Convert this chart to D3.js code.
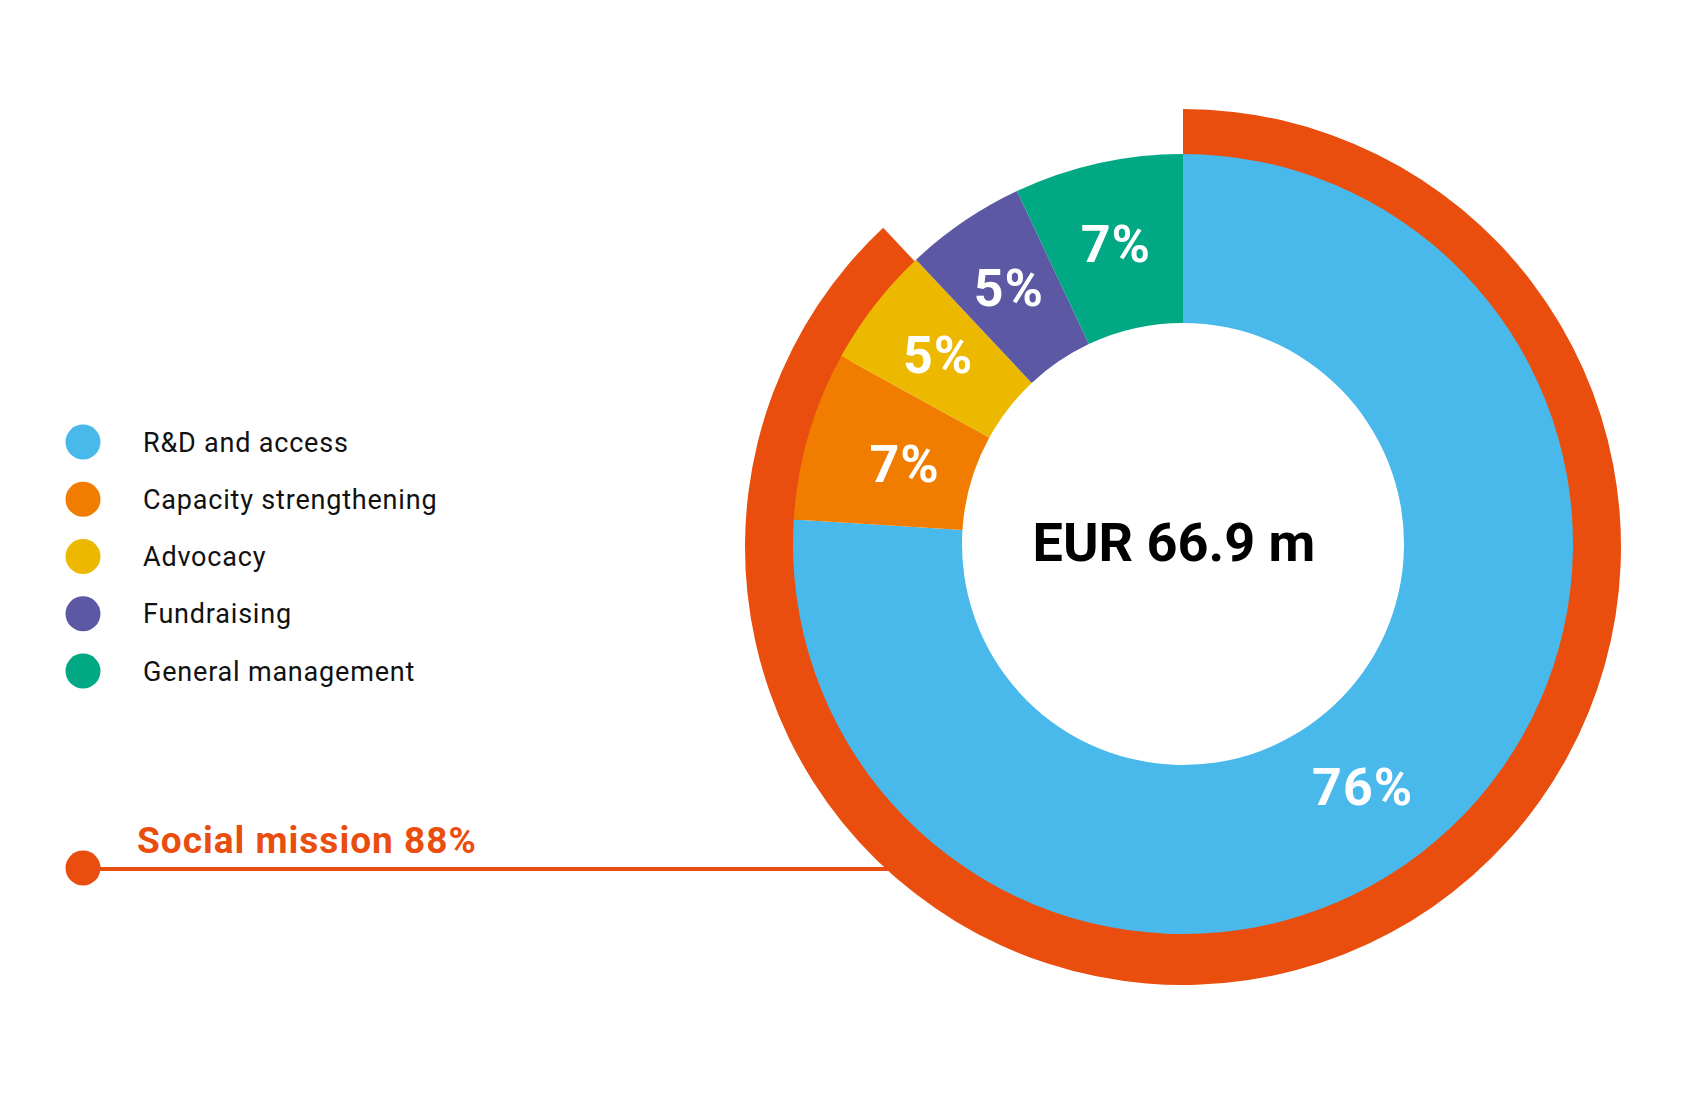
<!DOCTYPE html>
<html>
<head>
<meta charset="utf-8">
<script src="https://cdn.jsdelivr.net/npm/d3@7"></script>
<style>
  html, body { margin: 0; padding: 0; background: #ffffff; }
  svg { display: block; }
  text { font-family: Roboto, "DejaVu Sans", sans-serif; }
</style>
</head>
<body>
<svg id="chart" width="1700" height="1100"></svg>
<script>
// ---- data ----
const categories = ["R&D and access", "Capacity strengthening", "Advocacy", "Fundraising", "General management"];
const values = [76, 7, 5, 5, 7];
const valueLabels = ["76%", "7%", "5%", "5%", "7%"];
const colors = ["#48B9EA", "#F07D00", "#ECB800", "#5C58A3", "#00A884"];
const socialMissionLabel = "Social mission 88%";
const socialMissionShare = 88;
const totalLabel = "EUR 66.9 m";

// ---- layout ----
const W = 1700, H = 1100;
const cx = 1183, cy = 544;
const rInner = 221, rOuter = 390, rRing = 438;
const ringColor = "#E94E0F";

const svg = d3.select("#chart");
svg.append("rect").attr("width", W).attr("height", H).attr("fill", "#fff");

// social mission connector line (behind donut)
const lineY = 869;
svg.append("line")
  .attr("x1", 83).attr("x2", cx)
  .attr("y1", lineY).attr("y2", lineY)
  .attr("stroke", ringColor).attr("stroke-width", 4);
svg.append("circle").attr("cx", 83).attr("cy", 868).attr("r", 17.5).attr("fill", ringColor);
svg.append("text")
  .attr("x", 137).attr("y", 853)
  .attr("fill", ringColor)
  .attr("font-size", 37).attr("font-weight", 700)
  .attr("letter-spacing", 1)
  .text(socialMissionLabel);

// outer ring = social mission share (drawn first, slightly lower centre)
const angleScale = d3.scaleLinear().domain([0, 100]).range([0, 2 * Math.PI]);
svg.append("path")
  .attr("transform", `translate(${cx},${cy + 3})`)
  .attr("d", d3.arc().innerRadius(rOuter - 8).outerRadius(rRing)
    .startAngle(0).endAngle(angleScale(socialMissionShare))())
  .attr("fill", ringColor);

const g = svg.append("g").attr("transform", `translate(${cx},${cy})`);

// donut
const pie = d3.pie().sort(null).value(d => d)(values);
const arc = d3.arc().innerRadius(rInner).outerRadius(rOuter);
g.selectAll("path.slice").data(pie).enter().append("path")
  .attr("class", "slice")
  .attr("d", arc)
  .attr("fill", (d, i) => colors[i]);

// percent labels
const labelRadius = [302, 290, 310, 310, 308];
const labelAngleShift = [0.117, 0, 0, 0, 0];
g.selectAll("text.pct").data(pie).enter().append("text")
  .attr("class", "pct")
  .attr("x", (d, i) => labelRadius[i] * Math.sin((d.startAngle + d.endAngle) / 2 + labelAngleShift[i]))
  .attr("y", (d, i) => -labelRadius[i] * Math.cos((d.startAngle + d.endAngle) / 2 + labelAngleShift[i]))
  .attr("dy", "0.36em")
  .attr("text-anchor", "middle")
  .attr("fill", "#fff")
  .attr("font-size", 52).attr("font-weight", 700)
  .attr("letter-spacing", 1)
  .text((d, i) => valueLabels[i]);

// center total
g.append("text")
  .attr("x", -9).attr("y", 17)
  .attr("text-anchor", "middle")
  .attr("fill", "#000")
  .attr("font-size", 54).attr("font-weight", 700)
  .text(totalLabel);

// legend
const legendY = d3.scalePoint().domain(categories).range([442, 671]);
const legend = svg.append("g");
const items = legend.selectAll("g").data(categories).enter().append("g")
  .attr("transform", d => `translate(0,${legendY(d)})`);
items.append("circle").attr("cx", 83).attr("cy", 0).attr("r", 17.5)
  .attr("fill", (d, i) => colors[i]);
items.append("text").attr("x", 143).attr("y", 0).attr("dy", "0.36em")
  .attr("font-size", 27).attr("fill", "#111")
  .attr("letter-spacing", 0.8)
  .text(d => d);
</script>
</body>
</html>
